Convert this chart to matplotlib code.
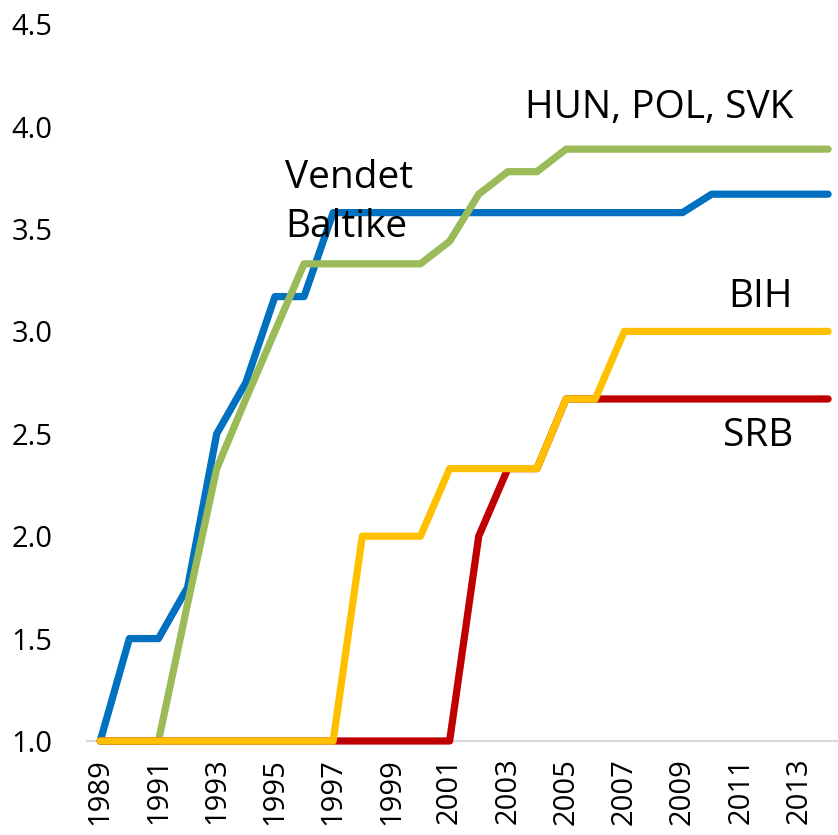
import matplotlib
matplotlib.use("Agg")
import matplotlib.pyplot as plt

years = list(range(1989, 2015))
baltic = [1.0, 1.5, 1.5, 1.75, 2.5, 2.75, 3.17, 3.17, 3.58, 3.58, 3.58, 3.58, 3.58,
          3.58, 3.58, 3.58, 3.58, 3.58, 3.58, 3.58, 3.58, 3.67, 3.67, 3.67, 3.67, 3.67]
hun_pol_svk = [1.0, 1.0, 1.0, 1.67, 2.33, 2.67, 3.0, 3.33, 3.33, 3.33, 3.33, 3.33, 3.44,
               3.67, 3.78, 3.78, 3.89, 3.89, 3.89, 3.89, 3.89, 3.89, 3.89, 3.89, 3.89, 3.89]
srb = [1.0, 1.0, 1.0, 1.0, 1.0, 1.0, 1.0, 1.0, 1.0, 1.0, 1.0, 1.0, 1.0,
       2.0, 2.33, 2.33, 2.67, 2.67, 2.67, 2.67, 2.67, 2.67, 2.67, 2.67, 2.67, 2.67]
bih = [1.0, 1.0, 1.0, 1.0, 1.0, 1.0, 1.0, 1.0, 1.0, 2.0, 2.0, 2.0, 2.33,
       2.33, 2.33, 2.33, 2.67, 2.67, 3.0, 3.0, 3.0, 3.0, 3.0, 3.0, 3.0, 3.0]
yticks = [1.0, 1.5, 2.0, 2.5, 3.0, 3.5, 4.0, 4.5]
xticks = list(range(1989, 2014, 2))

plt.rcParams['font.family'] = ['Open Sans', 'DejaVu Sans']

fig = plt.figure(figsize=(8.38, 8.35), dpi=100)
ax = fig.add_axes([0.104, 0.1126, 0.896, 0.8584])

lw = 5.2
ax.plot(years, baltic, color='#0070C0', lw=lw, solid_capstyle='round', solid_joinstyle='round')
ax.plot(years, hun_pol_svk, color='#9BBB59', lw=lw, solid_capstyle='round', solid_joinstyle='round')
ax.plot(years, srb, color='#C00000', lw=lw, solid_capstyle='round', solid_joinstyle='round')
ax.plot(years, bih, color='#FFC000', lw=lw, solid_capstyle='round', solid_joinstyle='round')

ax.set_xlim(1988.55, 2014.34)
ax.set_ylim(1.0, 4.5)
ax.set_yticks(yticks)
ax.set_yticklabels([f"{v:.1f}" for v in yticks], fontsize=21)
ax.set_xticks(xticks)
ax.set_xticklabels([str(x) for x in xticks], rotation=90, fontsize=21)
ax.tick_params(axis='both', length=0)
ax.tick_params(axis='x', pad=12)
ax.tick_params(axis='y', pad=25)
for s in ['left', 'right', 'top']:
    ax.spines[s].set_visible(False)
ax.spines['bottom'].set_color('#D9D9D9')
ax.spines['bottom'].set_linewidth(1.5)
ax.spines['bottom'].set_zorder(0)
for line in ax.lines:
    line.set_clip_on(False)

ax.text(1995.35, 3.63, "Vendet\nBaltike", fontsize=28, ha='left', va='center', linespacing=1.4)
ax.text(2012.8, 4.09, "HUN, POL, SVK", fontsize=28, ha='right', va='center')
ax.text(2012.8, 3.17, "BIH", fontsize=28, ha='right', va='center')
ax.text(2012.8, 2.49, "SRB", fontsize=28, ha='right', va='center')

fig.savefig("out.png", dpi=100)
